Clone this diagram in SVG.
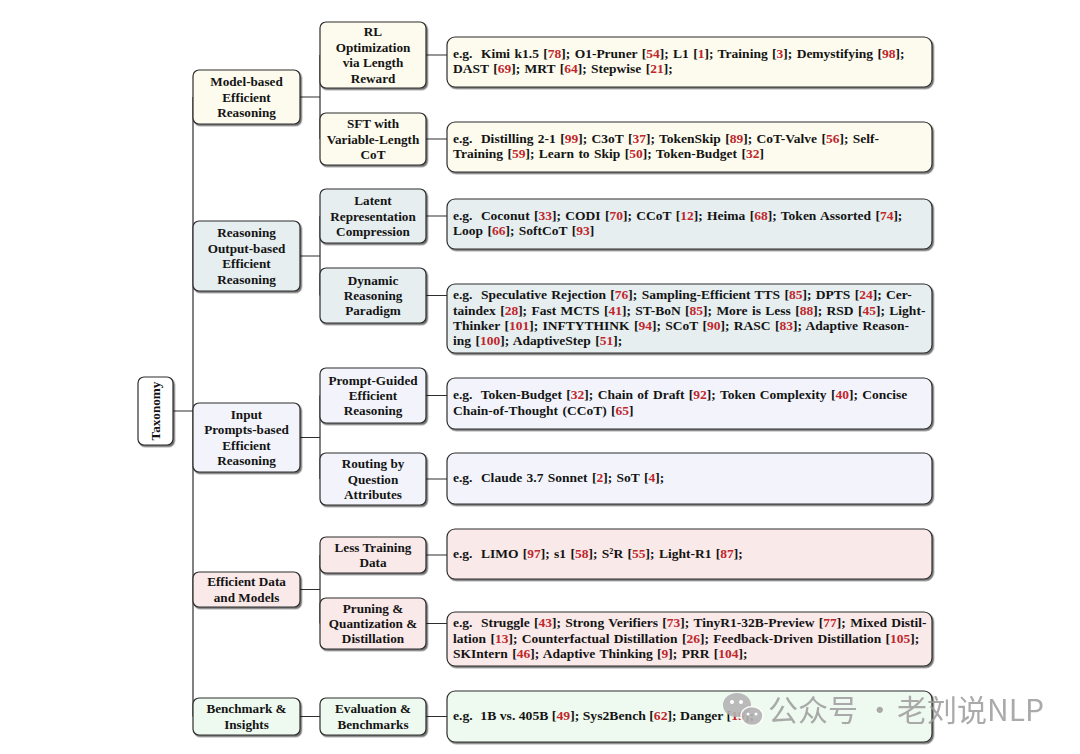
<svg xmlns="http://www.w3.org/2000/svg" width="1080" height="754" viewBox="0 0 1080 754">
<style>
.t{font-family:"Liberation Serif","Times New Roman",serif;font-weight:bold;font-size:13.2px;fill:#141414}
.lf{font-size:13.5px;word-spacing:1px}
.c{text-anchor:middle}
.r{fill:#c0262c}
.b{stroke:#2e2e2e;stroke-width:1.2;filter:url(#sh)}
.f1{fill:#fcfbee}.f2{fill:#e6eef0}.f3{fill:#f3f4fb}.f4{fill:#fae9e9}.f5{fill:#eefaef}
.ln{fill:none;stroke:#2e2e2e;stroke-width:1.2}
.wm{font-family:"Noto Sans CJK SC","Noto Sans",sans-serif;font-size:30px;fill:#9c9c9c;opacity:0.85}
</style>
<defs>
<filter id="sh" x="-10%" y="-10%" width="130%" height="140%">
<feDropShadow dx="1.4" dy="1.6" stdDeviation="0.7" flood-color="#000" flood-opacity="0.55"/>
</filter>
</defs>
<rect width="1080" height="754" fill="#ffffff"/>

<g id="connectors">
<path class="ln" d="M173 411H193M193 97V716.5"/>
<path class="ln" d="M300 97H320M300 256H320M300 437.5H320M300 589.5H320M300 716.5H320"/>
<path class="ln" d="M320 55V139M320 216V295.5M320 395.5V479M320 555V623.5"/>
<path class="ln" d="M426 55H447M426 139H447M426 216H447M426 295.5H447M426 395.5H447M426 479H447M426 555H447M426 623.5H447M426 716.5H447"/>
</g>

<g id="root">
<rect class="b" x="138" y="377" width="35" height="68" rx="6" fill="#ffffff"/>
<text class="t c" transform="translate(160,411) rotate(-90)">Taxonomy</text>
</g>

<!-- Level 1 -->
<g id="model-based">
<rect class="b f1" x="193" y="70" width="107" height="54" rx="6"/>
<text class="t c" x="246.5" y="86.1">Model-based</text>
<text class="t c" x="246.5" y="101.5">Efficient</text>
<text class="t c" x="246.5" y="116.9">Reasoning</text>
</g>
<g id="output-based">
<rect class="b f2" x="193" y="221" width="107" height="70" rx="6"/>
<text class="t c" x="246.5" y="237.4">Reasoning</text>
<text class="t c" x="246.5" y="252.8">Output-based</text>
<text class="t c" x="246.5" y="268.2">Efficient</text>
<text class="t c" x="246.5" y="283.6">Reasoning</text>
</g>
<g id="prompts-based">
<rect class="b f3" x="193" y="403" width="107" height="69" rx="6"/>
<text class="t c" x="246.5" y="418.9">Input</text>
<text class="t c" x="246.5" y="434.3">Prompts-based</text>
<text class="t c" x="246.5" y="449.7">Efficient</text>
<text class="t c" x="246.5" y="465.1">Reasoning</text>
</g>
<g id="data-models">
<rect class="b f4" x="193" y="572" width="107" height="35" rx="6"/>
<text class="t c" x="246.5" y="586.3">Efficient Data</text>
<text class="t c" x="246.5" y="601.7">and Models</text>
</g>
<g id="benchmark">
<rect class="b f5" x="193" y="698" width="107" height="37" rx="6"/>
<text class="t c" x="246.5" y="713.3">Benchmark &amp;</text>
<text class="t c" x="246.5" y="728.7">Insights</text>
</g>

<!-- Level 2 -->
<g id="rl-opt">
<rect class="b f1" x="320" y="22" width="106" height="66" rx="6"/>
<text class="t c" x="373" y="36.4">RL</text>
<text class="t c" x="373" y="51.8">Optimization</text>
<text class="t c" x="373" y="67.2">via Length</text>
<text class="t c" x="373" y="82.6">Reward</text>
</g>
<g id="sft">
<rect class="b f1" x="320" y="113" width="106" height="52" rx="6"/>
<text class="t c" x="373" y="128.1">SFT with</text>
<text class="t c" x="373" y="143.5">Variable-Length</text>
<text class="t c" x="373" y="158.9">CoT</text>
</g>
<g id="latent">
<rect class="b f2" x="320" y="189" width="106" height="54" rx="6"/>
<text class="t c" x="373" y="205.1">Latent</text>
<text class="t c" x="373" y="220.5">Representation</text>
<text class="t c" x="373" y="235.9">Compression</text>
</g>
<g id="dynamic">
<rect class="b f2" x="320" y="268" width="106" height="55" rx="6"/>
<text class="t c" x="373" y="284.6">Dynamic</text>
<text class="t c" x="373" y="300">Reasoning</text>
<text class="t c" x="373" y="315.4">Paradigm</text>
</g>
<g id="prompt-guided">
<rect class="b f3" x="320" y="368" width="106" height="55" rx="6"/>
<text class="t c" x="373" y="384.6">Prompt-Guided</text>
<text class="t c" x="373" y="400">Efficient</text>
<text class="t c" x="373" y="415.4">Reasoning</text>
</g>
<g id="routing">
<rect class="b f3" x="320" y="453" width="106" height="52" rx="6"/>
<text class="t c" x="373" y="468.1">Routing by</text>
<text class="t c" x="373" y="483.5">Question</text>
<text class="t c" x="373" y="498.9">Attributes</text>
</g>
<g id="less-data">
<rect class="b f4" x="320" y="537" width="106" height="36" rx="6"/>
<text class="t c" x="373" y="551.8">Less Training</text>
<text class="t c" x="373" y="567.2">Data</text>
</g>
<g id="pruning">
<rect class="b f4" x="320" y="598" width="106" height="51" rx="6"/>
<text class="t c" x="373" y="612.6">Pruning &amp;</text>
<text class="t c" x="373" y="628">Quantization &amp;</text>
<text class="t c" x="373" y="643.4">Distillation</text>
</g>
<g id="evaluation">
<rect class="b f5" x="320" y="698" width="106" height="37" rx="6"/>
<text class="t c" x="373" y="713.3">Evaluation &amp;</text>
<text class="t c" x="373" y="728.7">Benchmarks</text>
</g>

<!-- Leaves -->
<g id="leaf-rl">
<rect class="b f1" x="447" y="37" width="485" height="50" rx="8"/>
<text class="t lf" x="453" y="58">e.g.<tspan dx="4"> Kimi k1.5 [</tspan><tspan class="r">78</tspan>]; O1-Pruner [<tspan class="r">54</tspan>]; L1 [<tspan class="r">1</tspan>]; Training [<tspan class="r">3</tspan>]; Demystifying [<tspan class="r">98</tspan>];</text>
<text class="t lf" x="453" y="73.3">DAST [<tspan class="r">69</tspan>]; MRT [<tspan class="r">64</tspan>]; Stepwise [<tspan class="r">21</tspan>];</text>
</g>
<g id="leaf-sft">
<rect class="b f1" x="447" y="122" width="485" height="50" rx="8"/>
<text class="t lf" x="453" y="142.9">e.g.<tspan dx="4"> Distilling 2-1 [</tspan><tspan class="r">99</tspan>]; C3oT [<tspan class="r">37</tspan>]; TokenSkip [<tspan class="r">89</tspan>]; CoT-Valve [<tspan class="r">56</tspan>]; Self-</text>
<text class="t lf" x="453" y="158.2">Training [<tspan class="r">59</tspan>]; Learn to Skip [<tspan class="r">50</tspan>]; Token-Budget [<tspan class="r">32</tspan>]</text>
</g>
<g id="leaf-latent">
<rect class="b f2" x="447" y="199" width="485" height="50" rx="8"/>
<text class="t lf" x="453" y="219.9">e.g.<tspan dx="4"> Coconut [</tspan><tspan class="r">33</tspan>]; CODI [<tspan class="r">70</tspan>]; CCoT [<tspan class="r">12</tspan>]; Heima [<tspan class="r">68</tspan>]; Token Assorted [<tspan class="r">74</tspan>];</text>
<text class="t lf" x="453" y="235.2">Loop [<tspan class="r">66</tspan>]; SoftCoT [<tspan class="r">93</tspan>]</text>
</g>
<g id="leaf-dynamic">
<rect class="b f2" x="447" y="284" width="485" height="69" rx="8"/>
<text class="t lf" x="453" y="299.2">e.g.<tspan dx="4"> Speculative Rejection [</tspan><tspan class="r">76</tspan>]; Sampling-Efficient TTS [<tspan class="r">85</tspan>]; DPTS [<tspan class="r">24</tspan>]; Cer-</text>
<text class="t lf" x="453" y="314.5">taindex [<tspan class="r">28</tspan>]; Fast MCTS [<tspan class="r">41</tspan>]; ST-BoN [<tspan class="r">85</tspan>]; More is Less [<tspan class="r">88</tspan>]; RSD [<tspan class="r">45</tspan>]; Light-</text>
<text class="t lf" x="453" y="329.8">Thinker [<tspan class="r">101</tspan>]; INFTYTHINK [<tspan class="r">94</tspan>]; SCoT [<tspan class="r">90</tspan>]; RASC [<tspan class="r">83</tspan>]; Adaptive Reason-</text>
<text class="t lf" x="453" y="345.1">ing [<tspan class="r">100</tspan>]; AdaptiveStep [<tspan class="r">51</tspan>];</text>
</g>
<g id="leaf-prompt">
<rect class="b f3" x="447" y="378" width="485" height="51" rx="8"/>
<text class="t lf" x="453" y="399.4">e.g.<tspan dx="4"> Token-Budget [</tspan><tspan class="r">32</tspan>]; Chain of Draft [<tspan class="r">92</tspan>]; Token Complexity [<tspan class="r">40</tspan>]; Concise</text>
<text class="t lf" x="453" y="414.7">Chain-of-Thought (CCoT) [<tspan class="r">65</tspan>]</text>
</g>
<g id="leaf-routing">
<rect class="b f3" x="447" y="453" width="485" height="51" rx="8"/>
<text class="t lf" x="453" y="482">e.g.<tspan dx="4"> Claude 3.7 Sonnet [</tspan><tspan class="r">2</tspan>]; SoT [<tspan class="r">4</tspan>];</text>
</g>
<g id="leaf-less">
<rect class="b f4" x="447" y="529" width="485" height="50" rx="8"/>
<text class="t lf" x="453" y="557.5">e.g.<tspan dx="4"> LIMO [</tspan><tspan class="r">97</tspan>]; s1 [<tspan class="r">58</tspan>]; S²R [<tspan class="r">55</tspan>]; Light-R1 [<tspan class="r">87</tspan>];</text>
</g>
<g id="leaf-pruning">
<rect class="b f4" x="447" y="612" width="485" height="54" rx="8"/>
<text class="t lf" x="453" y="627.2">e.g.<tspan dx="4"> Struggle [</tspan><tspan class="r">43</tspan>]; Strong Verifiers [<tspan class="r">73</tspan>]; TinyR1-32B-Preview [<tspan class="r">77</tspan>]; Mixed Distil-</text>
<text class="t lf" x="453" y="642.5">lation [<tspan class="r">13</tspan>]; Counterfactual Distillation [<tspan class="r">26</tspan>]; Feedback-Driven Distillation [<tspan class="r">105</tspan>];</text>
<text class="t lf" x="453" y="657.8">SKIntern [<tspan class="r">46</tspan>]; Adaptive Thinking [<tspan class="r">9</tspan>]; PRR [<tspan class="r">104</tspan>];</text>
</g>
<g id="leaf-eval">
<rect class="b f5" x="447" y="691" width="485" height="51" rx="8"/>
<text class="t" x="453" y="720" textLength="301" lengthAdjust="spacingAndGlyphs">e.g.<tspan dx="4"> 1B vs. 405B [</tspan><tspan class="r">49</tspan>]; Sys2Bench [<tspan class="r">62</tspan>]; Danger [<tspan class="r">19</tspan>];</text>
</g>

<g id="watermark">
<ellipse cx="737" cy="705" rx="14" ry="12" fill="#b3b3b3" opacity="0.9"/>
<ellipse cx="752" cy="716" rx="11" ry="9.5" fill="#b3b3b3" stroke="#ffffff" stroke-width="1.5" opacity="0.9"/>
<circle cx="732" cy="702" r="2" fill="#ffffff"/>
<circle cx="741" cy="702" r="2" fill="#ffffff"/>
<circle cx="748" cy="714" r="1.5" fill="#ffffff"/>
<circle cx="756" cy="714" r="1.5" fill="#ffffff"/>
<text class="wm" x="768" y="721">公众号 ·<tspan x="897">老刘说NLP</tspan></text>
</g>
</svg>
